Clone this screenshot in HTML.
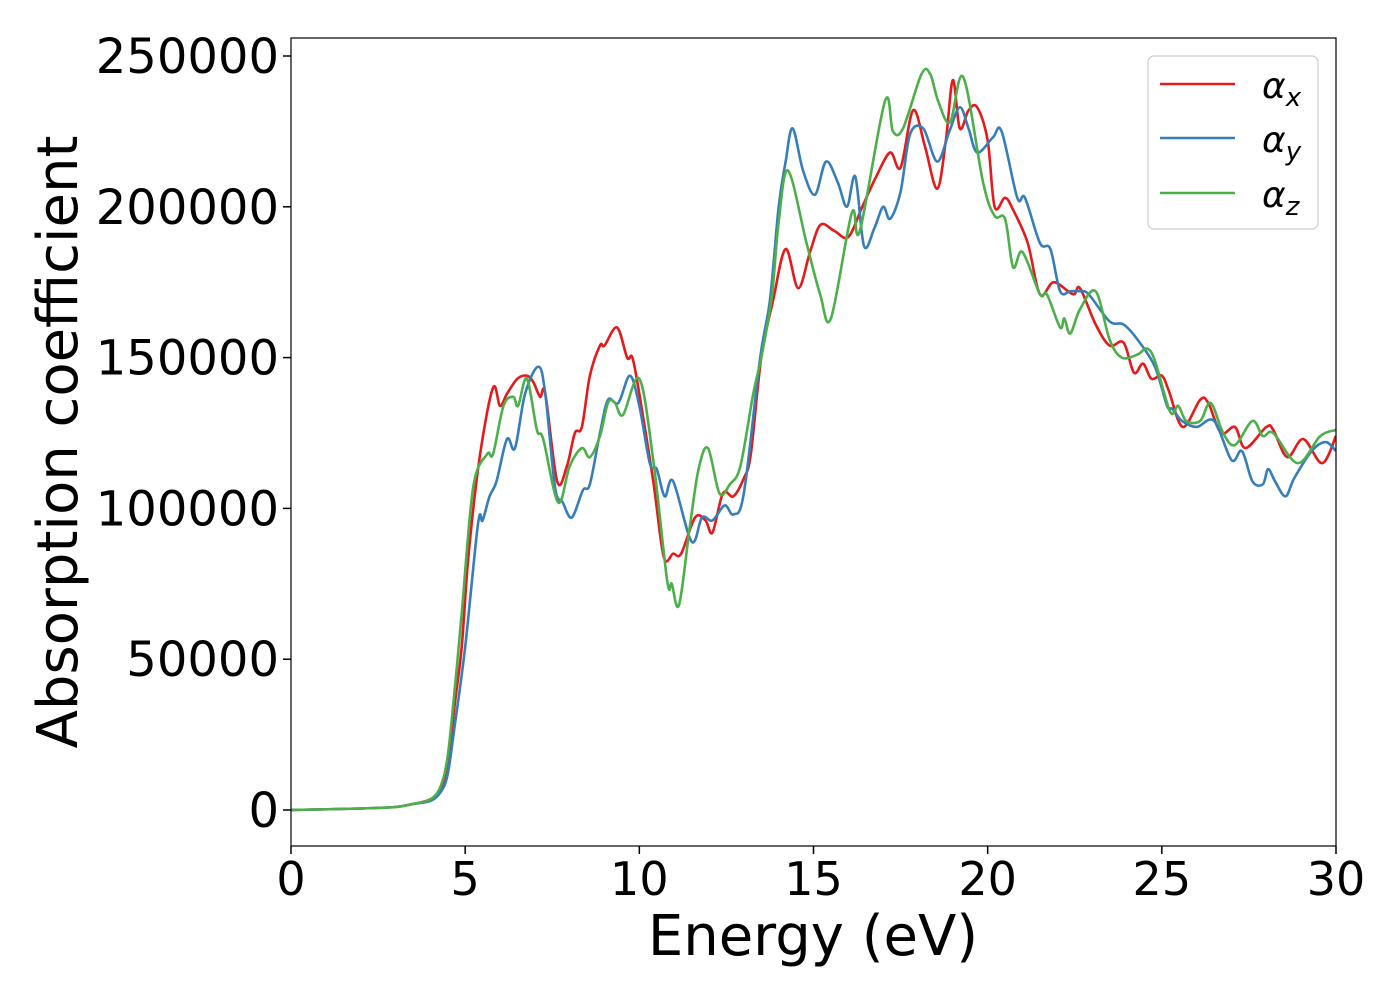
<!DOCTYPE html>
<html><head><meta charset="utf-8"><style>
body{margin:0;background:#fff;}
svg{display:block;font-family:"DejaVu Sans","Liberation Sans",sans-serif;}
</style></head><body>
<svg id="chart" width="1400" height="1000">
<g id="plot"></g>
<g>
<rect x="1148" y="56" width="170" height="173" rx="6" fill="#fff" fill-opacity="0.8" stroke="#ccc" stroke-width="1.2"/>
<line x1="1160" x2="1235" y1="84" y2="84" stroke="#e41a1c" stroke-width="2.6"/>
<line x1="1160" x2="1235" y1="138" y2="138" stroke="#377eb8" stroke-width="2.6"/>
<line x1="1160" x2="1235" y1="193" y2="193" stroke="#4daf4a" stroke-width="2.6"/>
<text x="1262" y="98" font-size="36" font-style="italic">α<tspan font-size="26" dy="8">x</tspan></text>
<text x="1262" y="152" font-size="36" font-style="italic">α<tspan font-size="26" dy="8">y</tspan></text>
<text x="1262" y="207" font-size="36" font-style="italic">α<tspan font-size="26" dy="8">z</tspan></text>
</g>
<text x="813" y="955" font-size="56" text-anchor="middle">Energy (eV)</text>
<text transform="translate(77,442) rotate(-90)" font-size="56" text-anchor="middle">Absorption coefficient</text>
</svg>
<script>
const xTicks=[0,5,10,15,20,25,30];
const yTicks=[0,50000,100000,150000,200000,250000];
const seriesNames=["α_x","α_y","α_z"];
const redE=[0,2,3,3.5,4,4.3,4.5,4.7,4.9,5.1,5.43,5.8,6.0,6.2,6.5,6.77,6.95,7.15,7.3,7.64,7.92,8.15,8.35,8.58,8.87,9.0,9.36,9.65,9.8,10.0,10.4,10.7,10.97,11.2,11.6,11.9,12.1,12.4,12.7,13.0,13.2,13.5,13.84,14.2,14.56,14.9,15.2,15.6,16.0,16.4,16.8,17.2,17.5,17.86,18.2,18.55,18.8,19.0,19.2,19.45,19.7,20.0,20.2,20.5,20.73,21.15,21.5,21.9,22.45,22.65,23.1,23.5,23.9,24.2,24.46,24.7,25.0,25.2,25.6,26.1,26.33,26.7,27.1,27.4,28.0,28.2,28.6,29.06,29.6,30];
const redV=[0,0.5,1,2,3.5,7,15,35,54,85,118,140,134,138,143,144,142,137,138,109,114,125,127,144,154,154,160,150,150,138,109,84,85,85,97,96,92,105,104,110,118,150,169,186,173,185,194,192,190,200,210,218,213,232,220,206,222,242,226,232,233,222,200,203,199,188,171,175,171,173,161,154,155,145,148,143,144,139,127,136,135,125,127,120,127,126,117,123,115,124];
const blueE=[0,2,3,3.5,4,4.3,4.5,4.7,5.0,5.37,5.5,5.7,5.9,6.2,6.43,6.72,7.1,7.3,7.58,7.8,8.06,8.38,8.58,8.87,9.1,9.4,9.73,10.0,10.3,10.5,10.73,10.97,11.5,11.8,12.1,12.45,12.7,13.0,13.47,13.75,14.0,14.2,14.4,14.7,15.04,15.36,15.7,15.96,16.2,16.45,16.75,17.0,17.2,17.5,17.77,18.15,18.55,18.9,19.2,19.45,19.7,20.15,20.4,20.85,21.07,21.5,21.8,22.08,22.37,22.65,22.9,23.5,23.9,24.3,24.8,25.15,25.3,25.58,26.0,26.5,27.0,27.3,27.6,27.9,28.05,28.25,28.55,28.8,29.3,29.7,30];
const blueV=[0,0.5,1,2,3,6,12,28,54,95,96,104,109,123,120,138,147,138,107,102,97,106,108,125,136,135,144,134,115,113,104,109,89,97,96,101,98,105,150,169,200,215,226,212,204,215,208,200,210,187,193,200,196,205,224,226,215,225,233,226,218,223,225,203,203,188,186,172,172,172,171,162,161,156,147,134,133,129,127,129,116,119,109,108,113,109,104,110,119,122,119];
const greenE=[0,2,3,3.5,4,4.3,4.5,4.7,4.9,5.23,5.63,5.8,6.1,6.38,6.52,6.77,7.06,7.24,7.67,8.0,8.35,8.58,8.87,9.1,9.3,9.53,10.0,10.4,10.8,10.93,11.14,11.45,11.7,11.97,12.3,12.6,12.9,13.27,13.5,13.8,14.0,14.27,14.8,15.19,15.5,16.1,16.33,17.05,17.28,17.57,18.1,18.35,18.58,18.92,19.3,19.87,20.2,20.5,20.73,21.0,21.5,21.7,22.08,22.2,22.37,22.65,23.1,23.5,23.85,24.3,24.57,24.8,25.24,25.47,25.7,26.1,26.4,26.76,27.1,27.6,27.9,28.2,28.9,29.55,30];
const greenV=[0,0.5,1,2,3.5,8,18,40,65,107,118,118,134,137,134,143,126,123,102,114,120,117,124,135,135,131,143,116,76,75,68,94,113,120,105,108,114,138,150,170,195,212,188,171,163,198,192,235,225,226,244,244,235,228,243,208,197,196,180,185,171,171,160,163,158,166,172,156,150,151,153,149,132,134,129,129,135,125,121,129,124,125,115,124,126];

const NS="http://www.w3.org/2000/svg";
const X0=291,X1=1336,Y0=38,Y1=846;
const xS=e=>X0+(e-0)/30*(X1-X0);
const yS=v=>810-v/250000*754;
const g=document.getElementById('plot');
function mk(t,a,p){const el=document.createElementNS(NS,t);for(const k in a)el.setAttribute(k,a[k]);(p||g).appendChild(el);return el;}
xTicks.forEach(t=>{
 const l=mk('line',{x1:xS(t),x2:xS(t),y1:Y1,y2:Y1+8,stroke:'#000','stroke-width':1.5});
 
 
 const tx=mk('text',{x:xS(t),y:895,'font-size':46,'text-anchor':'middle'});
 tx.textContent=t;
 
 
});
yTicks.forEach(t=>{
 const l=mk('line',{x1:X0-8,x2:X0,y1:yS(t),y2:yS(t),stroke:'#000','stroke-width':1.5});
 
 
 const tx=mk('text',{x:279,y:yS(t)+17,'font-size':48,'text-anchor':'end'});
 tx.textContent=t;
 
 
});
function path(E,V){
 const p=E.map((e,i)=>[xS(e),yS(V[i]*1000)]);
 let d='M'+p[0][0]+','+p[0][1];
 for(let i=0;i<p.length-1;i++){
  const a=p[Math.max(i-1,0)],b=p[i],c=p[i+1],dd=p[Math.min(i+2,p.length-1)];
  const c1=[b[0]+(c[0]-a[0])/6,b[1]+(c[1]-a[1])/6],c2=[c[0]-(dd[0]-b[0])/6,c[1]-(dd[1]-b[1])/6];
  d+=` C${c1[0]},${c1[1]} ${c2[0]},${c2[1]} ${c[0]},${c[1]}`;
 }
 return d;
}
const cl=mk('clipPath',{id:'clip'});mk('rect',{x:X0,y:Y0,width:X1-X0,height:Y1-Y0},cl);
const series=[[redE,redV,'#e41a1c','series-alpha-x'],[blueE,blueV,'#377eb8','series-alpha-y'],[greenE,greenV,'#4daf4a','series-alpha-z']];
series.forEach(s=>{
 const p=mk('path',{d:path(s[0],s[1]),fill:'none',stroke:s[2],'stroke-width':2.6,'clip-path':'url(#clip)','stroke-linejoin':'round'});
 
 
});
const fr=mk('rect',{x:X0,y:Y0,width:X1-X0,height:Y1-Y0,fill:'none',stroke:'#000','stroke-width':1.2});


</script>
</body></html>
